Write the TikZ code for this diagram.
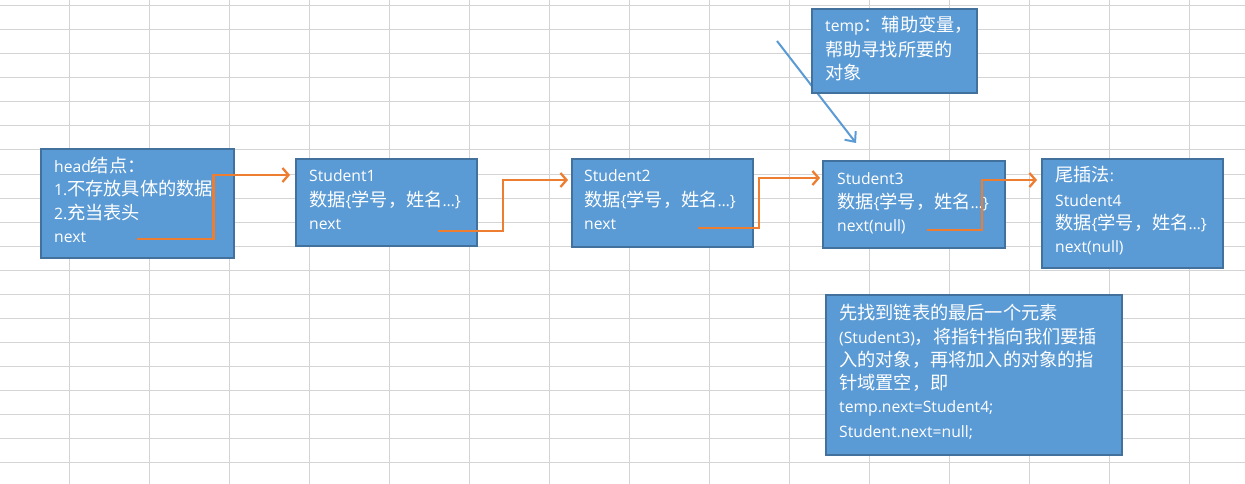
\documentclass[tikz,border=0pt]{standalone}
\usepackage{fontspec}
\setmainfont{Open Sans}
\newfontfamily\cjkfont{Noto Sans CJK SC}[Scale=1.16]
\usetikzlibrary{arrows.meta,calc}
\newcommand\zh[1]{{\cjkfont #1}}
\definecolor{boxfill}{HTML}{5B9BD5}
\definecolor{boxborder}{HTML}{41719C}
\definecolor{linkorange}{HTML}{ED7D31}
\definecolor{gridgray}{HTML}{D4D4D4}
\tikzset{
  box/.style={draw=boxborder, fill=boxfill, line width=2pt, anchor=north west, inner sep=0pt, outer sep=0pt},
  txt/.style={anchor=base west, inner sep=0pt, text=white, font=\fontsize{15.7}{18}\selectfont},
  link/.style={draw=linkorange, line width=2.5pt, -{Straight Barb[length=6pt,width=14pt,line width=2.3pt]}},
  pointer/.style={draw=boxfill, line width=2pt, -{Straight Barb[length=8pt,width=14pt,line width=2pt]}},
  gridline/.style={draw=gridgray, line width=1pt}
}
\begin{document}
\begin{tikzpicture}[x=1pt,y=-1pt]
\useasboundingbox (0,0) rectangle (1245,484);
\fill[white] (0,0) rectangle (1245,484);
% spreadsheet grid
\foreach \k in {0,...,14} \draw[gridline] ({69+80*\k},0) -- ({69+80*\k},484);
\foreach \k in {0,...,19} \draw[gridline] (0,{6+24*\k}) -- (1245,{6+24*\k});

% pointer arrow (temp)
\coordinate (pA) at (777,41);
\coordinate (pB) at (856,143);
\draw[pointer] (pA) -- (pB);

% boxes
\node[box, minimum width=193, minimum height=109] (head) at (41,149) {};
\node[box, minimum width=181, minimum height=87] (s1) at (296,159) {};
\node[box, minimum width=181, minimum height=88] (s2) at (572,159) {};
\node[box, minimum width=182, minimum height=87] (s3) at (823,161) {};
\node[box, minimum width=181, minimum height=109] (s4) at (1042,159) {};
\node[box, minimum width=165, minimum height=84] (temp) at (812,9) {};
\node[box, minimum width=296, minimum height=160] (note) at (826,295) {};

% head text
\node[txt] (h1) at (54,172) {head\zh{结点：}};
\node[txt] (h2) at (54,195) {1.\zh{不存放具体的数据}};
\node[txt] (h3) at (54,219) {2.\zh{充当表头}};
\node[txt] (h4) at (54,242) {next};
% student1
\node[txt] (a1) at (309,182) {Student1};
\node[txt] (a2) at (309,206) {\zh{数据}\{\zh{学号，姓名}…\}};
\node[txt] (a3) at (309,229) {next};
% student2
\node[txt] (b1) at (584,182) {Student2};
\node[txt] (b2) at (584,206) {\zh{数据}\{\zh{学号，姓名}…\}};
\node[txt] (b3) at (584,229) {next};
% student3
\node[txt] (c1) at (837,184) {Student3};
\node[txt] (c2) at (837,208) {\zh{数据}\{\zh{学号，姓名}…\}};
\node[txt] (c3) at (837,231) {next(null)};
% student4
\node[txt] (d0) at (1055,182) {\zh{尾插法}:};
\node[txt] (d1) at (1055,206) {Student4};
\node[txt] (d2) at (1055,229) {\zh{数据}\{\zh{学号，姓名}…\}};
\node[txt] (d3) at (1055,252) {next(null)};
% temp
\node[txt] (t1) at (825,32) {temp\zh{：辅助变量，}};
\node[txt] (t2) at (825,57) {\zh{帮助寻找所要的}};
\node[txt] (t3) at (825,80) {\zh{对象}};
% note
\node[txt] (n1) at (839,319) {\zh{先找到链表的最后一个元素}};
\node[txt] (n2) at (839,343) {(Student3)\zh{，将指针指向我们要插}};
\node[txt] (n3) at (839,366) {\zh{入的对象，再将加入的对象的指}};
\node[txt] (n4) at (839,389) {\zh{针域置空，即}};
\node[txt] (n5) at (839,412) {temp.next=Student4;};
\node[txt] (n6) at (839,437) {Student.next=null;};

% next links
\coordinate (l0a) at (137,239); \coordinate (l0b) at (290,175);
\coordinate (l1a) at (438,231); \coordinate (l1b) at (568,180);
\coordinate (l2a) at (698,228); \coordinate (l2b) at (820,178);
\coordinate (l3a) at (927,230); \coordinate (l3b) at (1037,180);
\foreach \a/\b in {l0a/l0b,l1a/l1b,l2a/l2b,l3a/l3b}
  \draw[link] (\a) -| ($(\a)!.5!(\b)$) |- (\b);
\end{tikzpicture}
\end{document}
